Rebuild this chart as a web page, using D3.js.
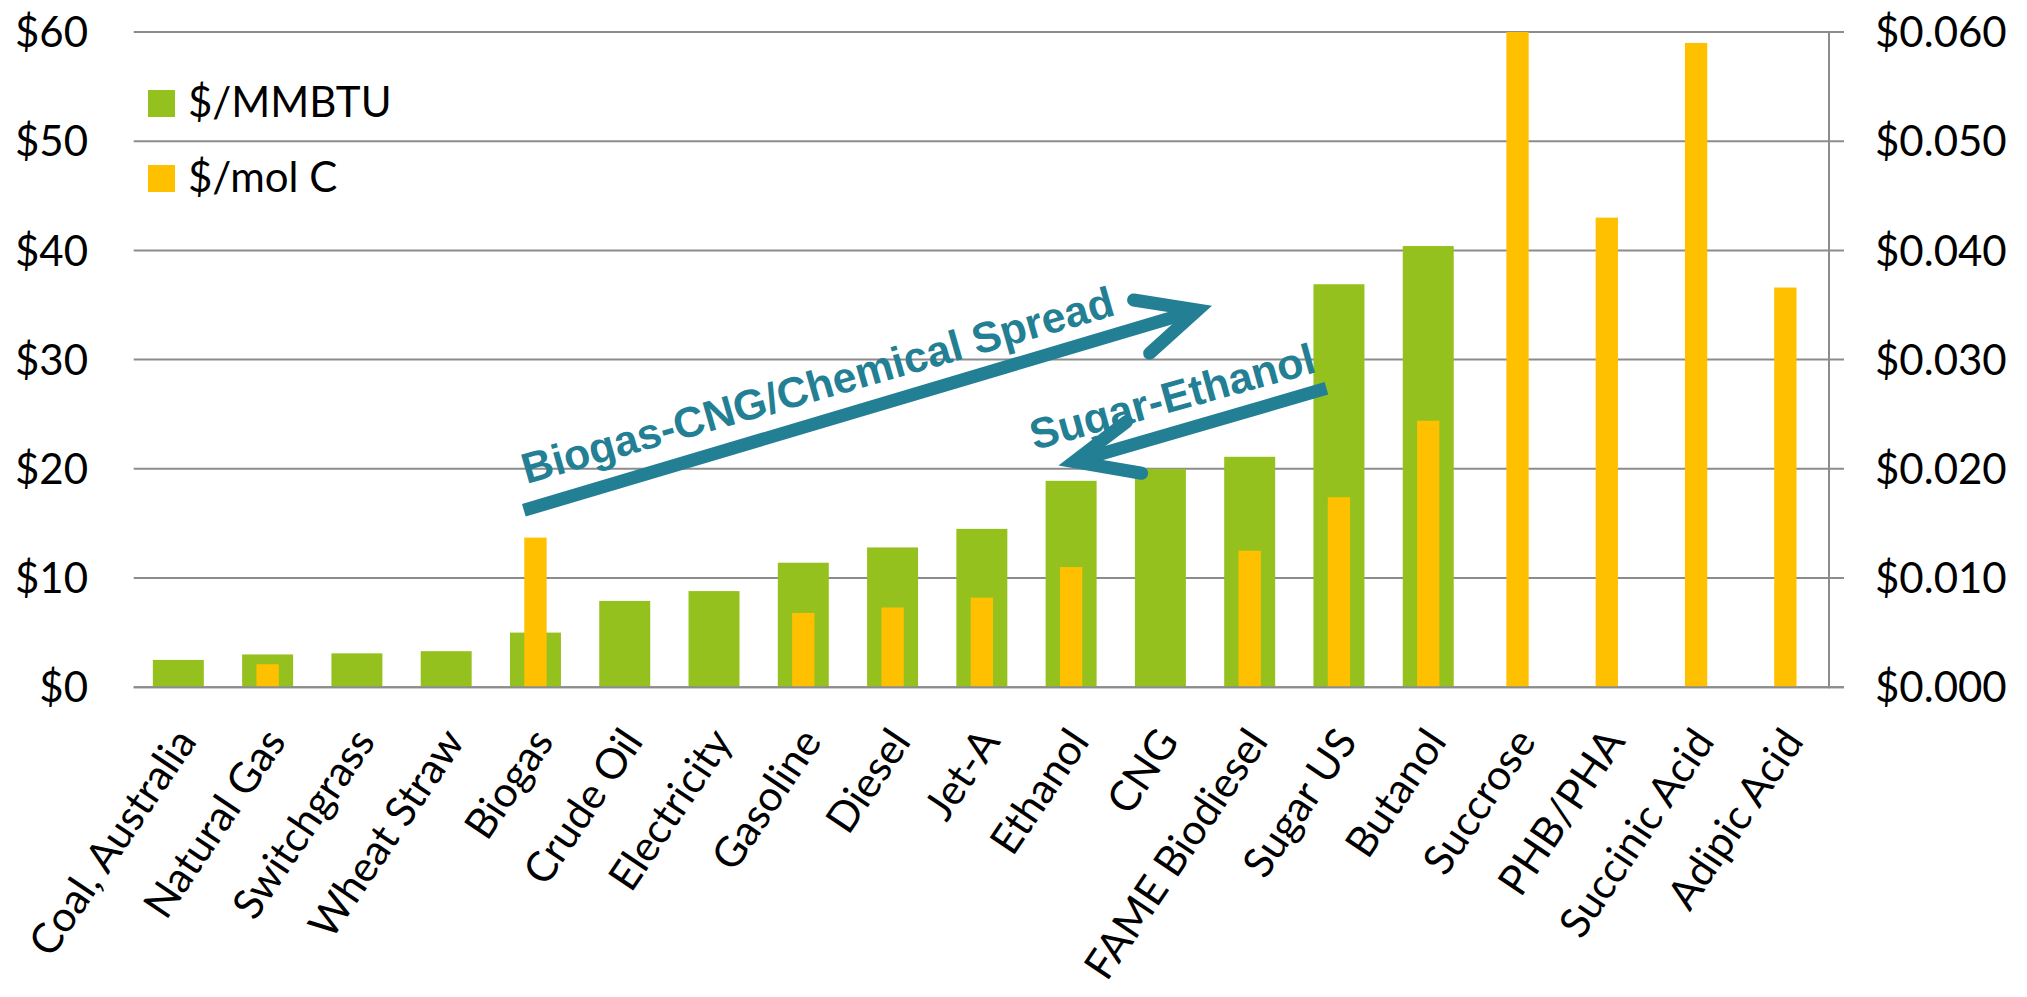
<!DOCTYPE html>
<html>
<head>
<meta charset="utf-8">
<script src="https://cdn.jsdelivr.net/npm/d3@7"></script>
<style>
  html, body { margin: 0; padding: 0; background: #ffffff; }
  svg { display: block; }
</style>
</head>
<body>
<script>
// Feedstock and product prices: energy basis (left axis) and carbon basis (right axis)
const categories = [
  "Coal, Australia", "Natural Gas", "Switchgrass", "Wheat Straw", "Biogas",
  "Crude Oil", "Electricity", "Gasoline", "Diesel", "Jet-A", "Ethanol", "CNG",
  "FAME Biodiesel", "Sugar US", "Butanol", "Succrose", "PHB/PHA",
  "Succinic Acid", "Adipic Acid"
];
const pricePerMMBTU = [2.5, 3.0, 3.1, 3.3, 5.0, 7.9, 8.8, 11.4, 12.8, 14.5,
  18.9, 20.0, 21.1, 36.9, 40.4, null, null, null, null];
const pricePerMolC = [null, 0.0021, null, null, 0.0137, null, null, 0.0068,
  0.0073, 0.0082, 0.0110, null, 0.0125, 0.0174, 0.0244, 0.0600, 0.0430,
  0.0590, 0.0366];
const leftTicks = [0, 10, 20, 30, 40, 50, 60];
const rightTicks = [0, 0.01, 0.02, 0.03, 0.04, 0.05, 0.06];
const seriesNames = ["$/MMBTU", "$/mol C"];

// Callout arrows, placed in (category index, $/MMBTU) space
const callouts = [
  { label: "Biogas-CNG/Chemical Spread", labelAt: [4.40, 18.6], angle: -16,
    tail: [4.37, 16.2], tip: [11.98, 34.7], armA: [11.20, 35.46], armB: [11.38, 30.58] },
  { label: "Sugar-Ethanol", labelAt: [10.09, 21.7], angle: -15.5,
    tail: [13.36, 27.37], tip: [10.47, 20.5], armA: [11.12, 24.31], armB: [11.29, 19.59] }
];

const W = 2027, H = 997;
const plot = { left: 133.7, right: 1830, top: 32, bottom: 687.2 };
const colors = { green: "#95C11F", gold: "#FFC000", grid: "#8C8C8C", teal: "#237F94" };
const tickFont = "Lato, 'Open Sans', sans-serif";

const svg = d3.select("body").append("svg")
  .attr("width", W).attr("height", H)
  .style("background", "#fff");

const x = d3.scaleBand().domain(categories)
  .range([plot.left, plot.right]).paddingInner(0).paddingOuter(0);
const yL = d3.scaleLinear().domain([0, 60]).range([plot.bottom, plot.top]);
const yR = d3.scaleLinear().domain([0, 0.06]).range([plot.bottom, plot.top]);
const xIdx = i => plot.left + i * x.step();

// Gridlines (extend past the secondary axis as tick marks)
svg.append("g").selectAll("line").data(leftTicks).join("line")
  .attr("x1", plot.left).attr("x2", plot.right + 14)
  .attr("y1", d => yL(d)).attr("y2", d => yL(d))
  .attr("stroke", colors.grid).attr("stroke-width", 2);

// Secondary axis line
svg.append("line")
  .attr("x1", plot.right - 1).attr("x2", plot.right - 1)
  .attr("y1", yR(0.06)).attr("y2", yR(0) + 1)
  .attr("stroke", colors.grid).attr("stroke-width", 2);

// Left axis labels
const fmtL = d => "$" + d3.format("d")(d);
svg.append("g").selectAll("text").data(leftTicks).join("text")
  .attr("x", 88).attr("y", d => yL(d)).attr("dy", "0.36em")
  .attr("text-anchor", "end")
  .style("font-family", tickFont).style("font-size", "42px").attr("fill", "#000")
  .text(fmtL);

// Right axis labels
const fmtR = d => "$" + d3.format(".3f")(d);
svg.append("g").selectAll("text").data(rightTicks).join("text")
  .attr("x", 1875).attr("y", d => yR(d)).attr("dy", "0.36em")
  .attr("text-anchor", "start")
  .style("font-family", tickFont).style("font-size", "42px").attr("fill", "#000")
  .text(fmtR);

// $/MMBTU bars (wide)
const wideW = x.bandwidth() * 0.571;
svg.append("g").selectAll("rect")
  .data(categories.map((c, i) => ({ c, v: pricePerMMBTU[i] })).filter(d => d.v != null))
  .join("rect")
  .attr("x", d => x(d.c) + (x.bandwidth() - wideW) / 2)
  .attr("width", wideW)
  .attr("y", d => yL(d.v))
  .attr("height", d => yL(0) - yL(d.v))
  .attr("fill", colors.green);

// $/mol C bars (narrow, on secondary axis)
const narrowW = x.bandwidth() * 0.25;
svg.append("g").selectAll("rect")
  .data(categories.map((c, i) => ({ c, v: pricePerMolC[i] })).filter(d => d.v != null))
  .join("rect")
  .attr("x", d => x(d.c) + (x.bandwidth() - narrowW) / 2)
  .attr("width", narrowW)
  .attr("y", d => yR(d.v))
  .attr("height", d => yR(0) - yR(d.v))
  .attr("fill", colors.gold);

// Baseline redrawn over the bars
svg.append("line")
  .attr("x1", plot.left).attr("x2", plot.right + 14)
  .attr("y1", yL(0)).attr("y2", yL(0))
  .attr("stroke", colors.grid).attr("stroke-width", 2);

// Category labels, rotated
svg.append("g").selectAll("text").data(categories).join("text")
  .attr("transform", d => `translate(${x(d) + x.bandwidth() / 2 + 7},${plot.bottom + 46}) rotate(-56)`)
  .attr("dy", "0.36em")
  .attr("text-anchor", "end")
  .style("font-family", tickFont).style("font-size", "42px").attr("fill", "#000")
  .text(d => d);

// Legend
const legend = svg.append("g");
const legendRows = [
  { name: seriesNames[0], color: colors.green, y: 117 },
  { name: seriesNames[1], color: colors.gold, y: 192 }
];
legend.selectAll("rect").data(legendRows).join("rect")
  .attr("x", 148).attr("y", d => d.y - 27).attr("width", 27).attr("height", 27)
  .attr("fill", d => d.color);
legend.selectAll("text").data(legendRows).join("text")
  .attr("x", 188).attr("y", d => d.y)
  .style("font-family", tickFont).style("font-size", "42px").attr("fill", "#000")
  .text(d => d.name);

// Callout labels
const pt = p => [xIdx(p[0]), yL(p[1])];
svg.append("g").selectAll("text").data(callouts).join("text")
  .attr("transform", d => { const p = pt(d.labelAt); return `translate(${p[0]},${p[1]}) rotate(${d.angle})`; })
  .style("font-family", "'Liberation Sans', Arial, sans-serif")
  .style("font-weight", "bold").style("font-size", "43px")
  .attr("fill", colors.teal)
  .text(d => d.label);

// Callout arrows: shaft plus open arrowhead
const arrows = svg.append("g");
callouts.forEach(d => {
  const t = pt(d.tail), h = pt(d.tip);
  const ang = Math.atan2(h[1] - t[1], h[0] - t[0]);
  const shaftEnd = [h[0] - Math.cos(ang) * 12, h[1] - Math.sin(ang) * 12];
  arrows.append("line")
    .attr("x1", t[0]).attr("y1", t[1]).attr("x2", shaftEnd[0]).attr("y2", shaftEnd[1])
    .attr("stroke", colors.teal).attr("stroke-width", 13).attr("stroke-linecap", "butt");
  arrows.append("path")
    .attr("d", d3.line()([pt(d.armA), [h[0] - Math.cos(ang) * 6, h[1] - Math.sin(ang) * 6], pt(d.armB)]))
    .attr("fill", "none").attr("stroke", colors.teal).attr("stroke-width", 13)
    .attr("stroke-linecap", "round").attr("stroke-linejoin", "miter").attr("stroke-miterlimit", 10);
});
</script>
</body>
</html>
